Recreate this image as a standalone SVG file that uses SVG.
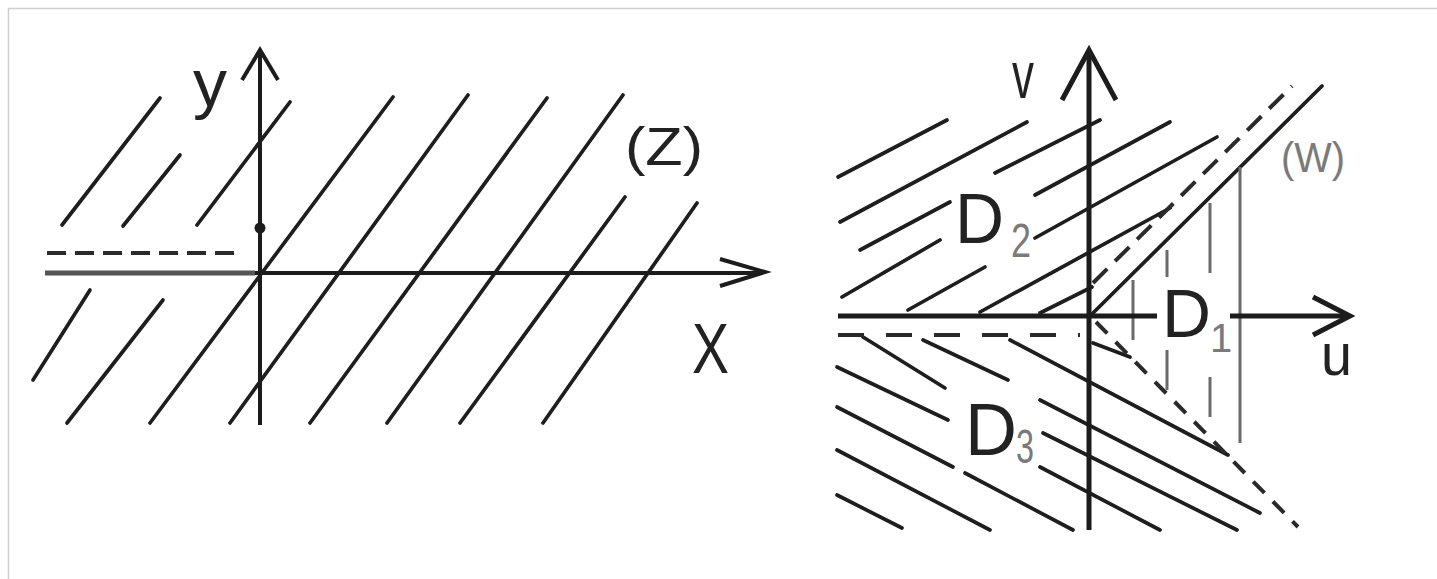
<svg xmlns="http://www.w3.org/2000/svg" width="1437" height="579" viewBox="0 0 1437 579">
<style>
.bg{fill:#ffffff}
.frame{fill:none;stroke:#cfcfcf;stroke-width:1.5}
.ax{stroke:#1c1c1c;stroke-width:4;fill:none;stroke-linecap:butt}
.axr{stroke:#1c1c1c;stroke-width:5;fill:none}
.h{stroke:#1e1e1e;stroke-width:3.7;stroke-linecap:round;fill:none}
.dash{stroke:#2a2a2a;stroke-width:4;fill:none}
.gv{stroke:#6a6a6a;stroke-width:3;fill:none}
.lbl{font-family:"Liberation Sans",Arial,sans-serif;fill:#222}
.sub{font-family:"Liberation Sans",Arial,sans-serif;fill:#7a7a7a}
</style>
<rect class="bg" x="0" y="0" width="1437" height="579"/>
<rect class="frame" x="8.5" y="8.5" width="1440" height="590"/>

<g id="left-plot">
  <g id="left-hatching">
    <line class="h" x1="62" y1="225" x2="160" y2="98"/>
    <line class="h" x1="123" y1="226" x2="180" y2="155"/>
    <line class="h" x1="197" y1="225" x2="290" y2="102"/>
    <line class="h" x1="33" y1="380" x2="90" y2="290"/>
    <line class="h" x1="67" y1="423" x2="163" y2="300"/>
    <line class="h" x1="150" y1="423" x2="393" y2="97"/>
    <line class="h" x1="230" y1="423" x2="468" y2="95"/>
    <line class="h" x1="310" y1="423" x2="547" y2="98"/>
    <line class="h" x1="387" y1="423" x2="623" y2="95"/>
    <line class="h" x1="460" y1="423" x2="625" y2="197"/>
    <line class="h" x1="543" y1="423" x2="697" y2="203"/>
  </g>
  <g id="left-axes">
    <line x1="45" y1="273" x2="255" y2="273" stroke="#555" stroke-width="5"/>
    <line class="ax" x1="255" y1="273" x2="763" y2="273" stroke-width="3.8"/>
    <polyline class="ax" points="720,259 765,272 720,286" stroke-width="3.8"/>
    <line class="ax" x1="260" y1="52" x2="260" y2="425"/>
    <polyline class="ax" points="242,80 260,50 278,80" stroke-width="3.8"/>
    <line class="dash" x1="47" y1="253" x2="235" y2="253" stroke-dasharray="19 9"/>
    <circle cx="260" cy="228" r="5.5" fill="#1c1c1c"/>
  </g>
  <g id="label-y"><text class="lbl" x="193" y="106" font-size="67" textLength="34" lengthAdjust="spacingAndGlyphs">y</text></g>
  <g id="label-Z"><text class="lbl" x="625" y="165" font-size="54" textLength="78" lengthAdjust="spacingAndGlyphs">(Z)</text></g>
  <g id="label-X"><text class="lbl" x="692" y="373" font-size="70" textLength="37" lengthAdjust="spacingAndGlyphs">X</text></g>
</g>

<g id="right-plot">
  <g id="D2-hatching">
    <line class="h" x1="838" y1="177" x2="947" y2="120"/>
    <line class="h" x1="840" y1="222" x2="1027" y2="122"/>
    <line class="h" x1="860" y1="250" x2="950" y2="202"/>
    <line class="h" x1="995" y1="173" x2="1100" y2="120"/>
    <line class="h" x1="1035" y1="195" x2="1170" y2="122"/>
    <line class="h" x1="1035" y1="238" x2="1217" y2="137"/>
    <line class="h" x1="842" y1="297" x2="940" y2="240"/>
    <line class="h" x1="908" y1="310" x2="985" y2="267"/>
    <line class="h" x1="980" y1="312" x2="1170" y2="208"/>
    <line class="h" x1="1040" y1="313" x2="1092" y2="287"/>
  </g>
  <g id="D3-hatching">
    <line class="h" x1="863" y1="337" x2="945" y2="388"/>
    <line class="h" x1="837" y1="367" x2="948" y2="420"/>
    <line class="h" x1="837" y1="407" x2="953" y2="467"/>
    <line class="h" x1="837" y1="450" x2="990" y2="530"/>
    <line class="h" x1="837" y1="495" x2="902" y2="528"/>
    <line class="h" x1="923" y1="340" x2="1008" y2="380"/>
    <line class="h" x1="1010" y1="340" x2="1228" y2="455"/>
    <line class="h" x1="1040" y1="400" x2="1260" y2="513"/>
    <line class="h" x1="1043" y1="433" x2="1237" y2="530"/>
    <line class="h" x1="1040" y1="467" x2="1160" y2="530"/>
    <line class="h" x1="965" y1="473" x2="1073" y2="530"/>
    <line class="h" x1="1093" y1="343" x2="1130" y2="357"/>
  </g>
  <g id="D1-boundaries">
    <line class="h" x1="1090" y1="316" x2="1322" y2="86"/>
    <line class="dash" x1="1093" y1="283" x2="1292" y2="86" stroke-width="3.8" stroke-dasharray="20 11"/>
    <line class="dash" x1="1096" y1="322" x2="1298" y2="527" stroke-width="3.8" stroke-dasharray="16 12"/>
    <line class="gv" x1="1240" y1="167" x2="1240" y2="443"/>
    <line class="gv" x1="1210" y1="203" x2="1210" y2="273"/>
    <line class="gv" x1="1210" y1="377" x2="1210" y2="417"/>
    <line class="gv" x1="1167" y1="250" x2="1167" y2="277"/>
    <line class="gv" x1="1167" y1="350" x2="1167" y2="390"/>
    <line class="gv" x1="1133" y1="280" x2="1133" y2="340" stroke="#999"/>
  </g>
  <g id="right-axes">
    <line class="axr" x1="838" y1="316" x2="1157" y2="316"/>
    <line class="axr" x1="1230" y1="316" x2="1350" y2="316"/>
    <polyline class="axr" points="1313,297 1350,316 1313,335" stroke-width="7"/>
    <line class="axr" x1="1089" y1="52" x2="1089" y2="530"/>
    <polyline class="axr" points="1062,100 1089,50 1116,100"/>
    <line class="dash" x1="838" y1="335" x2="1080" y2="335" stroke-width="5" stroke-dasharray="26 22"/>
  </g>
  <g id="label-v"><text class="lbl" x="1012" y="98" font-size="67" textLength="22" lengthAdjust="spacingAndGlyphs" fill="#444">v</text></g>
  <g id="label-u"><text class="lbl" x="1321" y="375" font-size="60" textLength="31" lengthAdjust="spacingAndGlyphs" fill="#444">u</text></g>
  <g id="label-W"><text class="sub" x="1281" y="172" font-size="42" textLength="64" lengthAdjust="spacingAndGlyphs" fill="#666">(W)</text></g>
  <g id="label-D2"><text class="lbl" x="955" y="243" font-size="70" textLength="49" lengthAdjust="spacingAndGlyphs">D</text><text class="sub" x="1011" y="257" font-size="48" textLength="20" lengthAdjust="spacingAndGlyphs">2</text></g>
  <g id="label-D1"><text class="lbl" x="1162" y="337" font-size="68" textLength="49" lengthAdjust="spacingAndGlyphs">D</text><text class="sub" x="1210" y="352" font-size="40">1</text></g>
  <g id="label-D3"><text class="lbl" x="965" y="455" font-size="74" textLength="52" lengthAdjust="spacingAndGlyphs">D</text><text class="sub" x="1016" y="463" font-size="48" textLength="18" lengthAdjust="spacingAndGlyphs">3</text></g>
</g>
</svg>
